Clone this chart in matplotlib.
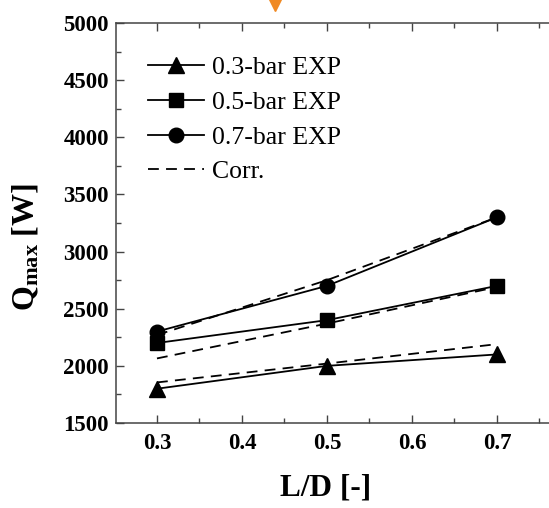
import matplotlib
matplotlib.use('Agg')
import matplotlib.pyplot as plt
from matplotlib.ticker import MultipleLocator
from matplotlib.lines import Line2D

# data
ld = [0.3, 0.5, 0.7]
q_03 = [1800, 2000, 2100]
q_05 = [2200, 2400, 2700]
q_07 = [2300, 2700, 3300]
corr_03 = [1855, 2020, 2190]
corr_05 = [2065, 2370, 2690]
corr_07 = [2270, 2750, 3300]

plt.rcParams['font.family'] = ['Liberation Serif', 'DejaVu Serif']
plt.rcParams['mathtext.fontset'] = 'custom'
plt.rcParams['mathtext.rm'] = 'Liberation Serif'
plt.rcParams['mathtext.bf'] = 'Liberation Serif:bold'

fig = plt.figure(figsize=(5.49, 5.08), dpi=100)
ax = fig.add_axes([116 / 549, 1 - 423 / 508, 1 - 116 / 549, (423 - 23) / 508])

lw = 1.3
ax.plot(ld, q_03, '-^', color='black', lw=lw, ms=11, label='0.3-bar EXP')
ax.plot(ld, q_05, '-s', color='black', lw=lw, ms=9.5, label='0.5-bar EXP')
ax.plot(ld, q_07, '-o', color='black', lw=lw, ms=10.5, label='0.7-bar EXP')
ax.plot(ld, corr_03, '--', color='black', lw=lw, dashes=(6, 4), label='Corr.')
ax.plot(ld, corr_05, '--', color='black', lw=lw, dashes=(6, 4))
ax.plot(ld, corr_07, '--', color='black', lw=lw, dashes=(6, 4))

ax.set_xlim(0.2518, 0.7612)
ax.set_ylim(1500, 5000)
ax.xaxis.set_major_locator(MultipleLocator(0.1))
ax.xaxis.set_minor_locator(MultipleLocator(0.05))
ax.yaxis.set_major_locator(MultipleLocator(500))
ax.yaxis.set_minor_locator(MultipleLocator(250))
ax.tick_params(which='both', direction='in', top=True, right=False, color='#444444')
ax.tick_params(which='major', length=6, width=1)
ax.tick_params(which='minor', length=3.5, width=1)
ax.set_xticks([0.3, 0.4, 0.5, 0.6, 0.7])
ax.set_xticklabels(['0.3', '0.4', '0.5', '0.6', '0.7'])
for lab in ax.get_xticklabels() + ax.get_yticklabels():
    lab.set_fontweight('bold')
    lab.set_fontsize(16.5)
ax.tick_params(axis='x', pad=7)
ax.tick_params(axis='y', pad=5)
ax.spines['right'].set_visible(False)
for s in ['left', 'top', 'bottom']:
    ax.spines[s].set_color('#444444')
    ax.spines[s].set_linewidth(1.1)

ax.set_xlabel('L/D [-]', fontsize=22.5, fontweight='bold')
ax.xaxis.set_label_coords(0.485, -0.127)
ax.set_ylabel(r'$\mathbf{Q_{max}}$ [W]', fontsize=23, fontweight='bold')
ax.yaxis.set_label_coords(-0.172, 0.44)

leg = ax.legend(loc='upper left', bbox_to_anchor=(0.05, 0.943), frameon=False, fontsize=18.5,
                handlelength=2.2, handletextpad=0.3, labelspacing=0.46, borderaxespad=0)

# orange arrow fragment at top edge
fig.add_artist(Line2D([275 / 549], [1 - 5 / 508], marker='v', color='#f08a24', ms=9,
                      transform=fig.transFigure))

plt.savefig('out.png', dpi=100)
